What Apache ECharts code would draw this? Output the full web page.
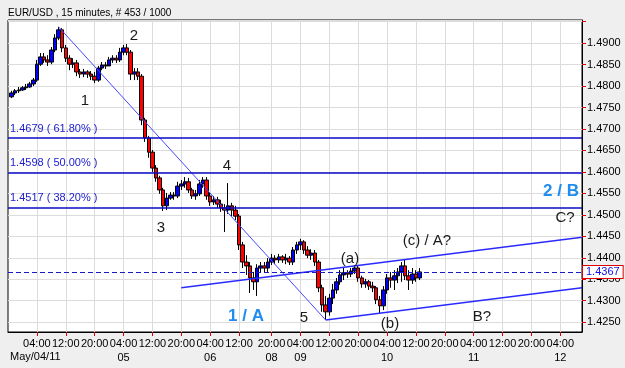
<!DOCTYPE html>
<html>
<head>
<meta charset="utf-8">
<script src="https://cdn.jsdelivr.net/npm/echarts@6/dist/echarts.min.js"></script>
<style>
  html, body { margin: 0; padding: 0; background: #efefef; }
  #chart { width: 625px; height: 368px; }
</style>
</head>
<body>
<div id="chart"></div>
<script>
// hourly slots, the weekend is skipped (Fri 19:00 -> Sun 19:00)
var sessions = [['2011-05-03T20:00:00Z', 72], ['2011-05-08T19:00:00Z', 88]];
var tickHours = [4, 12, 20];
var dayLabels = {
  '2011-05-05 04:00': '05',
  '2011-05-06 04:00': '06',
  '2011-05-08 20:00': '08',
  '2011-05-09 04:00': '09',
  '2011-05-10 04:00': '10',
  '2011-05-11 04:00': '11',
  '2011-05-12 04:00': '12'
};
var firstDayLabel = 'May/04/11';

var categories = [];
sessions.forEach(function (s) {
  var t = new Date(s[0]).getTime();
  for (var k = 0; k < s[1]; k++) {
    categories.push(new Date(t + k * 3600000).toISOString().slice(0, 16).replace('T', ' '));
  }
});

// EUR/USD, [open, close, low, high], first bar is slot 1
var firstSlot = 1;
var ohlc = [
  [1.4775,1.4784,1.4772,1.4789],[1.4784,1.4789,1.4779,1.4793],[1.4789,1.4791,1.4784,1.4798],
  [1.4791,1.4796,1.4789,1.4800],[1.4796,1.4798,1.4791,1.4805],[1.4798,1.4805,1.4796,1.4810],
  [1.4805,1.4814,1.4800,1.4819],[1.4814,1.4851,1.4810,1.4861],[1.4851,1.4868,1.4847,1.4877],
  [1.4868,1.4861,1.4854,1.4877],[1.4861,1.4856,1.4847,1.4872],[1.4856,1.4884,1.4851,1.4891],
  [1.4884,1.4912,1.4879,1.4921],[1.4912,1.4931,1.4907,1.4938],[1.4931,1.4889,1.4879,1.4935],
  [1.4889,1.4865,1.4856,1.4896],[1.4865,1.4851,1.4837,1.4872],[1.4851,1.4854,1.4842,1.4865],
  [1.4854,1.4833,1.4823,1.4861],[1.4833,1.4828,1.4819,1.4840],[1.4828,1.4833,1.4821,1.4840],
  [1.4833,1.4828,1.4819,1.4837],[1.4828,1.4823,1.4814,1.4835],[1.4823,1.4814,1.4807,1.4833],
  [1.4814,1.4842,1.4810,1.4847],[1.4842,1.4849,1.4837,1.4856],[1.4849,1.4847,1.4840,1.4856],
  [1.4847,1.4861,1.4851,1.4868],[1.4861,1.4865,1.4854,1.4872],[1.4865,1.4861,1.4854,1.4872],
  [1.4861,1.4879,1.4856,1.4889],[1.4879,1.4889,1.4872,1.4896],[1.4889,1.4879,1.4872,1.4898],
  [1.4879,1.4828,1.4814,1.4884],[1.4828,1.4833,1.4814,1.4842],[1.4833,1.4823,1.4814,1.4842],
  [1.4823,1.4721,1.4709,1.4828],[1.4721,1.4679,1.4670,1.4726],[1.4679,1.4646,1.4633,1.4684],
  [1.4646,1.4609,1.4600,1.4651],[1.4609,1.4586,1.4577,1.4616],[1.4586,1.4558,1.4549,1.4591],
  [1.4558,1.4521,1.4509,1.4563],[1.4521,1.4539,1.4511,1.4551],[1.4539,1.4546,1.4535,1.4553],
  [1.4546,1.4544,1.4535,1.4553],[1.4544,1.4567,1.4539,1.4577],[1.4567,1.4572,1.4558,1.4581],
  [1.4572,1.4577,1.4563,1.4588],[1.4577,1.4558,1.4551,1.4586],[1.4558,1.4544,1.4537,1.4563],
  [1.4544,1.4549,1.4535,1.4558],[1.4549,1.4572,1.4544,1.4581],[1.4572,1.4581,1.4563,1.4588],
  [1.4581,1.4544,1.4535,1.4588],[1.4544,1.4530,1.4521,1.4553],[1.4530,1.4535,1.4523,1.4544],
  [1.4535,1.4525,1.4516,1.4542],[1.4525,1.4516,1.4507,1.4535],[1.4516,1.4511,1.4460,1.4525],
  [1.4511,1.4521,1.4502,1.4574],[1.4521,1.4511,1.4497,1.4528],[1.4511,1.4497,1.4488,1.4521],
  [1.4497,1.4430,1.4418,1.4502],[1.4430,1.4390,1.4376,1.4437],[1.4390,1.4381,1.4360,1.4406],
  [1.4381,1.4353,1.4318,1.4390],[1.4353,1.4344,1.4325,1.4367],[1.4344,1.4376,1.4311,1.4385],
  [1.4376,1.4381,1.4365,1.4390],[1.4381,1.4376,1.4365,1.4390],[1.4376,1.4390,1.4367,1.4399],
  [1.4390,1.4399,1.4383,1.4409],[1.4399,1.4395,1.4385,1.4406],[1.4395,1.4402,1.4388,1.4409],
  [1.4402,1.4395,1.4388,1.4406],[1.4395,1.4399,1.4385,1.4409],[1.4399,1.4390,1.4383,1.4404],
  [1.4390,1.4418,1.4383,1.4425],[1.4418,1.4430,1.4409,1.4437],[1.4430,1.4437,1.4418,1.4444],
  [1.4437,1.4418,1.4409,1.4441],[1.4418,1.4406,1.4399,1.4427],[1.4406,1.4411,1.4395,1.4420],
  [1.4411,1.4390,1.4381,1.4418],[1.4390,1.4330,1.4320,1.4395],[1.4330,1.4290,1.4274,1.4337],
  [1.4290,1.4274,1.4255,1.4311],[1.4274,1.4306,1.4265,1.4316],[1.4306,1.4325,1.4292,1.4339],
  [1.4325,1.4344,1.4316,1.4353],[1.4344,1.4360,1.4337,1.4371],[1.4360,1.4365,1.4348,1.4376],
  [1.4365,1.4362,1.4353,1.4371],[1.4362,1.4369,1.4355,1.4376],[1.4369,1.4376,1.4362,1.4383],
  [1.4376,1.4353,1.4344,1.4381],[1.4353,1.4339,1.4330,1.4358],[1.4339,1.4344,1.4330,1.4351],
  [1.4344,1.4334,1.4325,1.4348],[1.4334,1.4330,1.4320,1.4344],[1.4330,1.4302,1.4292,1.4334],
  [1.4302,1.4288,1.4271,1.4311],[1.4288,1.4325,1.4278,1.4334],[1.4325,1.4353,1.4316,1.4362],
  [1.4353,1.4348,1.4330,1.4367],[1.4348,1.4358,1.4325,1.4371],[1.4358,1.4367,1.4341,1.4376],
  [1.4367,1.4381,1.4344,1.4390],[1.4381,1.4358,1.4348,1.4395],[1.4358,1.4348,1.4325,1.4371],
  [1.4348,1.4362,1.4339,1.4376],[1.4362,1.4353,1.4344,1.4371],[1.4353,1.4367,1.4348,1.4376]
];

// fibonacci retracement levels and last price
var fibLevels = [1.4679, 1.4598, 1.4517];
var fibNames = ['61.80%', '50.00%', '38.20%'];
var lastPrice = 1.4367;

// hand drawn lines: [slot, price]
var waveLine = [[14, 1.4938], [88, 1.4255]];
var upperChannel = [[48, 1.4330], [159, 1.4448]];
var lowerChannel = [[88, 1.4255], [159, 1.4330]];

var candleData = categories.map(function (c, i) {
  var bar = ohlc[i - firstSlot];
  return bar ? bar : '-';
});

function isTick(index, value) {
  if (index === 0) return false;
  return tickHours.indexOf(parseInt(value.slice(11, 13), 10)) >= 0;
}

var chart = echarts.init(document.getElementById('chart'));

var labelFont = 'Liberation Sans, Arial, sans-serif';
var waveText = { fontSize: 15, fill: '#1a1a1a', fontFamily: labelFont, align: 'center', verticalAlign: 'middle' };
function waveLabel(x, y, txt, extra) {
  var st = Object.assign({}, waveText, { text: txt }, extra || {});
  return { type: 'text', x: x, y: y, style: st, z: 100 };
}
var bigBlue = { fill: '#1e8cf0', fontSize: 17, fontWeight: 'bold' };

var option = {
  backgroundColor: '#efefef',
  animation: false,
  textStyle: { fontFamily: labelFont },
  grid: {
    left: 8, top: 20, right: 43, bottom: 36,
    show: true, backgroundColor: '#fff', borderColor: '#000', borderWidth: 1
  },
  xAxis: {
    type: 'category',
    data: categories,
    boundaryGap: false,
    axisLine: { lineStyle: { color: '#000' } },
    axisTick: { interval: isTick, length: 4, lineStyle: { color: '#e00000' } },
    axisLabel: {
      interval: isTick,
      hideOverlap: false,
      color: '#000', fontSize: 11, margin: 5, lineHeight: 14,
      formatter: function (v) {
        var d = dayLabels[v];
        return v.slice(11) + (d ? '\n' + d : '');
      }
    },
    splitLine: { show: true, interval: isTick, lineStyle: { color: '#dcdcdc' } }
  },
  yAxis: {
    type: 'value',
    position: 'right',
    min: 1.4227,
    max: 1.4954,
    minInterval: 0.005,
    maxInterval: 0.005,
    splitNumber: 14,
    axisLine: { show: true, lineStyle: { color: '#000' } },
    axisTick: { show: true, length: 4, lineStyle: { color: '#e00000' } },
    axisLabel: {
      color: '#000', fontSize: 11, margin: 5,
      showMinLabel: false, showMaxLabel: false,
      formatter: function (v) { return v > 1.4925 || v < 1.4240 ? '' : v.toFixed(4); }
    },
    splitLine: { lineStyle: { color: '#dcdcdc' } }
  },
  series: [
    {
      name: 'EUR/USD',
      type: 'candlestick',
      data: candleData,
      barWidth: 4,
      itemStyle: {
        color: '#0000ff', color0: '#ff0000',
        borderColor: '#000', borderColor0: '#000', borderWidth: 1
      },
      markLine: {
        silent: true,
        symbol: 'none',
        precision: 4,
        animation: false,
        data: fibLevels.map(function (v, k) {
          return {
            yAxis: v,
            lineStyle: { color: '#0a0ac8', width: 1.5, type: 'solid' },
            label: {
              position: 'insideStartTop', distance: [2, 4],
              color: '#2020d0', fontSize: 11,
              formatter: v.toFixed(4) + ' ( ' + fibNames[k] + ' )'
            }
          };
        }).concat([{
          yAxis: lastPrice,
          lineStyle: { color: '#1a1acc', width: 1, type: [5, 3] },
          label: {
            position: 'end', distance: 1,
            color: '#1010e0', fontSize: 11,
            backgroundColor: '#fff', borderColor: '#e00000', borderWidth: 1,
            padding: [1, 3, 0, 3],
            formatter: lastPrice.toFixed(4)
          }
        }])
      }
    },
    {
      type: 'line', data: waveLine, symbol: 'none', silent: true,
      lineStyle: { color: '#4646ff', width: 1 }
    },
    {
      type: 'line', data: upperChannel, symbol: 'none', silent: true,
      lineStyle: { color: '#2a2aff', width: 1.5 }
    },
    {
      type: 'line', data: lowerChannel, symbol: 'none', silent: true,
      lineStyle: { color: '#2a2aff', width: 1.5 }
    }
  ],
  graphic: [
    { type: 'text', x: 8, y: 8, style: { text: 'EUR/USD , 15 minutes, # 453 / 1000', fontSize: 10, fill: '#000', fontFamily: labelFont } },
    { type: 'text', x: 10, y: 351, style: { text: firstDayLabel, fontSize: 11, fill: '#000', fontFamily: labelFont } },
    waveLabel(85, 101, '1'),
    waveLabel(134, 36, '2'),
    waveLabel(161, 228, '3'),
    waveLabel(227, 166, '4'),
    waveLabel(304, 318, '5'),
    waveLabel(350, 259, '(a)'),
    waveLabel(390, 324, '(b)'),
    waveLabel(427, 241, '(c) / A?'),
    waveLabel(482, 317, 'B?'),
    waveLabel(565, 218, 'C?'),
    waveLabel(246, 316, '1 / A', bigBlue),
    waveLabel(561, 191, '2 / B', bigBlue)
  ]
};

chart.setOption(option);
</script>
</body>
</html>
